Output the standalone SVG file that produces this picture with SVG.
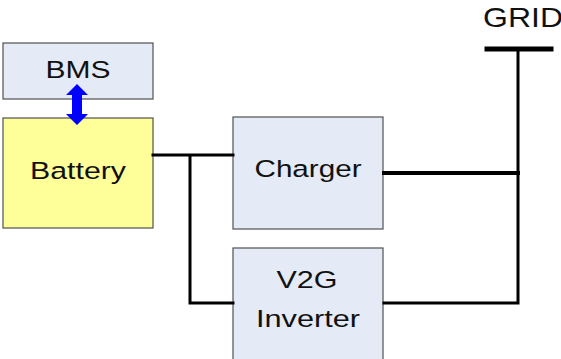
<svg xmlns="http://www.w3.org/2000/svg" width="561" height="359" viewBox="0 0 561 359">
<style>
.box{stroke:#505050;stroke-width:1.2}
.blue{fill:#E4EAF6}
.yel{fill:#FFFF99}
.lbl{font-family:"Liberation Sans",Arial,sans-serif;font-size:24.5px;fill:#111;text-anchor:middle}
.w{stroke:#000;fill:none;stroke-linecap:square}
</style>
<rect width="561" height="359" fill="#fff"/>
<g id="bms">
<rect class="box blue" x="3" y="43" width="150" height="56"/>
<text class="lbl" x="78" y="78" textLength="65" lengthAdjust="spacingAndGlyphs">BMS</text>
</g>
<g id="battery">
<rect class="box yel" x="3" y="118" width="150" height="110"/>
<text class="lbl" x="78" y="179" textLength="96" lengthAdjust="spacingAndGlyphs">Battery</text>
</g>
<g id="charger">
<rect class="box blue" x="233" y="117" width="150" height="112"/>
<text class="lbl" x="308" y="177" textLength="107" lengthAdjust="spacingAndGlyphs">Charger</text>
</g>
<g id="v2g">
<rect class="box blue" x="233" y="248" width="150" height="112"/>
<text class="lbl" x="307" y="288" textLength="61" lengthAdjust="spacingAndGlyphs">V2G</text>
<text class="lbl" x="308" y="327" textLength="104" lengthAdjust="spacingAndGlyphs">Inverter</text>
</g>
<g id="grid">
<text class="lbl" x="483" y="27" style="text-anchor:start;font-size:28px" textLength="80" lengthAdjust="spacingAndGlyphs">GRID</text>
</g>
<g id="connectors">
<path class="w" stroke-width="3" d="M153 155H233M190 155V303H233"/>
<path class="w" stroke-width="4" d="M384 173H518"/>
<path class="w" stroke-width="3" d="M384 303H518V49"/>
<path class="w" stroke-width="5" stroke-linecap="round" d="M487 49H551"/>
<polygon fill="#0000FF" points="77,84 88,95 82,95 82,114 88,114 77,125 66,114 72,114 72,95 66,95"/>
</g>
</svg>
